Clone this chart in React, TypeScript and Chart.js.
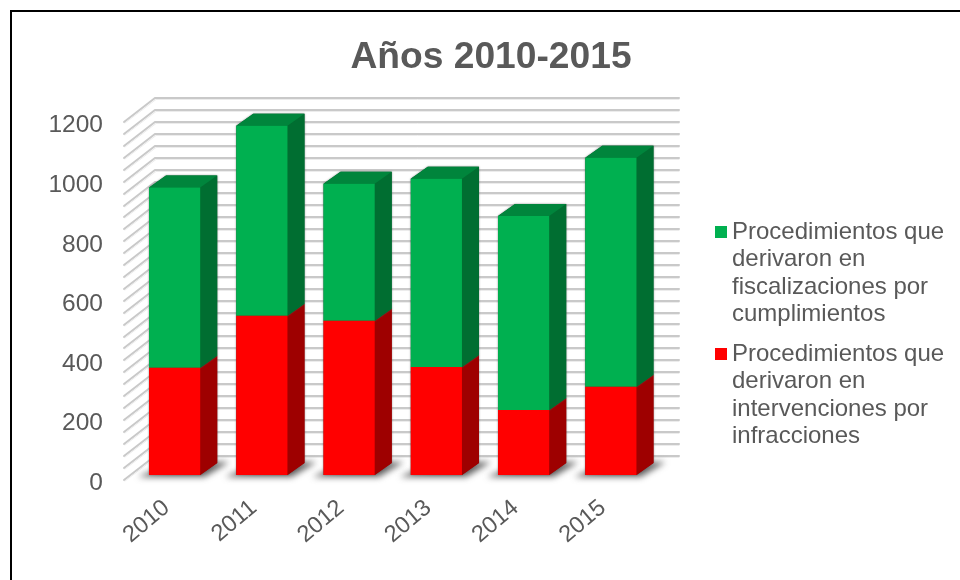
import React, { useEffect, useRef } from "react";
import { Chart, registerables } from "chart.js";

Chart.register(...registerables);

const years = ["2010", "2011", "2012", "2013", "2014", "2015"];
const intervenciones = [360, 535, 518, 363, 218, 296];
const fiscalizaciones = [605, 638, 460, 632, 652, 769];
const seriesNames = [
  ["Procedimientos que", "derivaron en", "intervenciones por", "infracciones"],
  ["Procedimientos que", "derivaron en", "fiscalizaciones por", "cumplimientos"],
];
const titleText = "Años 2010-2015";
const colors = ["#FF0000", "#00B050"];
const sideColors = ["#9E0000", "#006E31"];
const topColors = ["#B00000", "#00853C"];
const FONT = "'Liberation Sans', Arial, sans-serif";

// depth of the 3D box
const WALL_DX = 32, WALL_DY = 24, WALL_SHIFT = -3.5, BAR_DX = 17, BAR_DY = 12, SHIFT_X = 8, SHIFT_Y = -8;
const GRID_STEP = 40, WALL_RIGHT = 679;

function legendSwatch(color: string) {
  const cv = document.createElement("canvas");
  cv.width = 16;
  cv.height = 12;
  const c = cv.getContext("2d")!;
  c.fillStyle = color;
  c.fillRect(4, 0, 12, 12);
  return cv;
}

const box3d = {
  id: "box3d",
  afterLayout(chart: any) {
    const t = chart.titleBlock;
    t.left = 0; t.right = 982; t.top = 25; t.bottom = 90;
    const l = chart.legend;
    l.left = 706; l.right = 960; l.top = 208; l.bottom = 560;
  },
  beforeDraw(chart: any) {
    const c = chart.ctx;
    c.save();
    c.fillStyle = "#fff";
    c.fillRect(0, 0, 960, 580);
    c.strokeStyle = "#000";
    c.lineWidth = 2;
    c.beginPath();
    c.moveTo(11, 580);
    c.lineTo(11, 11);
    c.lineTo(960, 11);
    c.stroke();
    c.restore();
  },
  beforeDatasetsDraw(chart: any) {
    const c = chart.ctx;
    const y = chart.scales.y;
    const left = chart.chartArea.left;
    c.save();
    for (let v = 0; v <= y.max; v += GRID_STEP) {
      const py = Math.round(y.getPixelForValue(v) + WALL_SHIFT);
      c.lineCap = "round";
      c.strokeStyle = "#c9c9c9";
      c.lineWidth = 2;
      c.beginPath();
      c.moveTo(left + 1, py);
      c.lineTo(left + WALL_DX, py - WALL_DY);
      c.lineTo(WALL_RIGHT, py - WALL_DY);
      c.stroke();
      c.strokeStyle = "#ececec";
      c.lineWidth = 1;
      c.beginPath();
      c.moveTo(left + 2, py + 1);
      c.lineTo(left + WALL_DX + 1, py - WALL_DY + 1.5);
      c.lineTo(WALL_RIGHT, py - WALL_DY + 1.5);
      c.stroke();
    }
    c.restore();

    c.save();
    c.translate(SHIFT_X, SHIFT_Y);
    // floor shadows
    const base = chart.getDatasetMeta(0).data;
    base.forEach((b: any) => {
      const l = b.x - b.width / 2, r = b.x + b.width / 2, yb = b.base;
      c.save();
      c.filter = "blur(3px)";
      c.fillStyle = "rgba(60,60,60,0.8)";
      c.beginPath();
      c.moveTo(l - 11, yb + 2);
      c.lineTo(r + 4, yb + 2);
      c.lineTo(r + BAR_DX + 12, yb - BAR_DY - 1);
      c.lineTo(r + BAR_DX, yb - BAR_DY - 1);
      c.lineTo(l, yb - 3);
      c.closePath();
      c.fill();
      c.restore();
    });
    // edge shadow, side and top faces
    chart.data.datasets.forEach((_: any, di: number) => {
      chart.getDatasetMeta(di).data.forEach((b: any) => {
        const l = b.x - b.width / 2, r = b.x + b.width / 2;
        c.save();
        c.shadowColor = "rgba(90,90,90,0.8)";
        c.shadowBlur = 2;
        c.fillStyle = sideColors[di];
        c.beginPath();
        c.moveTo(l, b.base);
        c.lineTo(l, b.y);
        c.lineTo(l + BAR_DX, b.y - BAR_DY);
        c.lineTo(r + BAR_DX, b.y - BAR_DY);
        c.lineTo(r + BAR_DX, b.base - BAR_DY);
        c.lineTo(r, b.base);
        c.closePath();
        c.fill();
        c.restore();
        c.fillStyle = sideColors[di];
        c.beginPath();
        c.moveTo(r, b.base);
        c.lineTo(r, b.y);
        c.lineTo(r + BAR_DX, b.y - BAR_DY);
        c.lineTo(r + BAR_DX, b.base - BAR_DY);
        c.closePath();
        c.fill();
        c.fillStyle = topColors[di];
        c.beginPath();
        c.moveTo(l, b.y);
        c.lineTo(r, b.y);
        c.lineTo(r + BAR_DX, b.y - BAR_DY);
        c.lineTo(l + BAR_DX, b.y - BAR_DY);
        c.closePath();
        c.fill();
      });
    });
  },
  afterDatasetsDraw(chart: any) {
    chart.ctx.restore();
  },
};

export default function App() {
  const ref = useRef<HTMLCanvasElement>(null);
  useEffect(() => {
    document.body.style.margin = "0";
    const chart = new Chart(ref.current!, {
      type: "bar",
      data: {
        labels: years,
        datasets: [
          { label: seriesNames[0].join(" "), data: intervenciones, backgroundColor: colors[0], clip: false } as any,
          { label: seriesNames[1].join(" "), data: fiscalizaciones, backgroundColor: colors[1], clip: false } as any,
        ],
      },
      plugins: [box3d],
      options: {
        animation: false,
        responsive: false,
        layout: { padding: { left: 30, right: 108, top: 61, bottom: 27 } },
        datasets: { bar: { barPercentage: 51 / 87, categoryPercentage: 1 } },
        plugins: {
          tooltip: { enabled: false },
          title: {
            display: true,
            text: titleText,
            color: "#595959",
            font: { family: FONT, size: 37.2, weight: "bold" },
          },
          legend: {
            position: "right",
            align: "start",
            reverse: true,
            labels: {
              boxWidth: 12,
              boxHeight: 12,
              usePointStyle: true,
              pointStyleWidth: 2,
              color: "#595959",
              padding: 12,
              font: { family: FONT, size: 24, lineHeight: 27.5 / 24 },
              generateLabels(c: any) {
                return c.data.datasets.map((d: any, i: number) => ({
                  text: seriesNames[i],
                  fillStyle: d.backgroundColor,
                  strokeStyle: d.backgroundColor,
                  fontColor: "#595959",
                  pointStyle: legendSwatch(d.backgroundColor),
                  lineWidth: 0,
                  datasetIndex: i,
                  hidden: false,
                }));
              },
            },
          },
        },
        scales: {
          x: {
            stacked: true,
            grid: { display: false, drawTicks: false },
            border: { display: false },
            afterFit(s: any) { s.height = 70; },
            ticks: {
              color: "#595959",
              minRotation: 40,
              maxRotation: 40,
              padding: 11,
              font: { family: FONT, size: 23.5 },
            },
          },
          y: {
            stacked: true,
            min: 0,
            max: 1200,
            grid: { display: false, drawTicks: false },
            border: { display: false },
            afterFit(s: any) { s.width = 93; },
            ticks: {
              stepSize: 200,
              color: "#595959",
              padding: 20,
              font: { family: FONT, size: 24.5 },
              callback: (v: any) => String(v),
            },
          },
        },
      } as any,
    });
    return () => chart.destroy();
  }, []);
  return <canvas ref={ref} width={960} height={580} style={{ display: "block" }} />;
}
